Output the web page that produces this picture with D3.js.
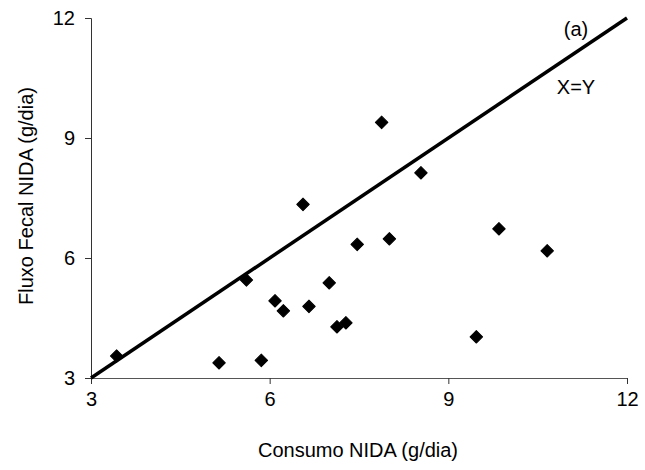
<!DOCTYPE html>
<html>
<head>
<meta charset="utf-8">
<script src="https://cdn.jsdelivr.net/npm/d3@7"></script>
<style>
  body { margin: 0; background: #fff; }
  text { font-family: "Liberation Sans", Arial, sans-serif; fill: #000; }
</style>
</head>
<body>
<svg id="chart"></svg>
<script>
// consumo NIDA (x) vs fluxo fecal NIDA (y), g/dia
var consumo = [3.43, 5.15, 5.86, 5.61, 6.09, 6.23, 6.66, 6.56, 7.00, 7.13, 7.28, 7.47, 7.88, 8.01, 8.54, 9.47, 9.85, 10.66];
var fluxo   = [3.55, 3.38, 3.44, 5.45, 4.93, 4.68, 4.79, 7.34, 5.38, 4.28, 4.38, 6.34, 9.39, 6.48, 8.13, 4.03, 6.73, 6.18];
var xTicks = [3, 6, 9, 12];
var yTicks = [3, 6, 9, 12];
var lineXY = [3, 12];

var width = 645,
    height = 470,
    margin = { top: 18, right: 18, bottom: 92, left: 91 };

var svg = d3.select('#chart')
    .attr('width', width)
    .attr('height', height);

var x = d3.scaleLinear().domain([3, 12]).range([margin.left, 627]);
var y = d3.scaleLinear().domain([3, 12]).range([378, margin.top]);

// axes
var xAxis = svg.append('g')
    .attr('transform', 'translate(0,' + y(3) + ')')
    .call(d3.axisBottom(x).tickValues(xTicks).tickSize(6).tickPadding(8).tickFormat(d3.format('d')));

var yAxis = svg.append('g')
    .attr('transform', 'translate(' + x(3) + ',0)')
    .call(d3.axisLeft(y).tickValues(yTicks).tickSize(6).tickPadding(10).tickFormat(d3.format('d')));

[xAxis, yAxis].forEach(function (a) {
    a.selectAll('path, line').attr('stroke', '#333').attr('stroke-width', 1);
    a.selectAll('text')
        .style('font-size', '20px')
        .style('font-family', '"Liberation Sans", Arial, sans-serif')
        .attr('fill', '#000');
});
xAxis.select('.domain').attr('stroke', '#555');

// x = y line
svg.append('line')
    .attr('x1', x(lineXY[0]))
    .attr('y1', y(lineXY[0]))
    .attr('x2', x(lineXY[1]))
    .attr('y2', y(lineXY[1]))
    .attr('stroke', '#000')
    .attr('stroke-width', 3.5);

// points
var pts = consumo.map(function (c, i) { return [c, fluxo[i]]; });
svg.append('g').selectAll('path')
    .data(pts)
    .enter().append('path')
    .attr('d', d3.symbol().type(d3.symbolSquare).size(78))
    .attr('transform', function (d) {
        return 'translate(' + x(d[0]) + ',' + y(d[1]) + ') rotate(45)';
    })
    .attr('fill', '#000')
    .attr('stroke', '#000')
    .attr('stroke-width', 1)
    .attr('stroke-linejoin', 'round');

// labels
svg.append('text')
    .attr('x', 576)
    .attr('y', 36)
    .attr('text-anchor', 'middle')
    .style('font-size', '20px')
    .text('(a)');

svg.append('text')
    .attr('x', 576)
    .attr('y', 94)
    .attr('text-anchor', 'middle')
    .style('font-size', '20px')
    .text('X=Y');

svg.append('text')
    .attr('x', 358)
    .attr('y', 457)
    .attr('text-anchor', 'middle')
    .style('font-size', '20px')
    .text('Consumo NIDA (g/dia)');

svg.append('text')
    .attr('transform', 'translate(33,196) rotate(-90)')
    .attr('text-anchor', 'middle')
    .style('font-size', '20px')
    .text('Fluxo Fecal NIDA (g/dia)');
</script>
</body>
</html>
